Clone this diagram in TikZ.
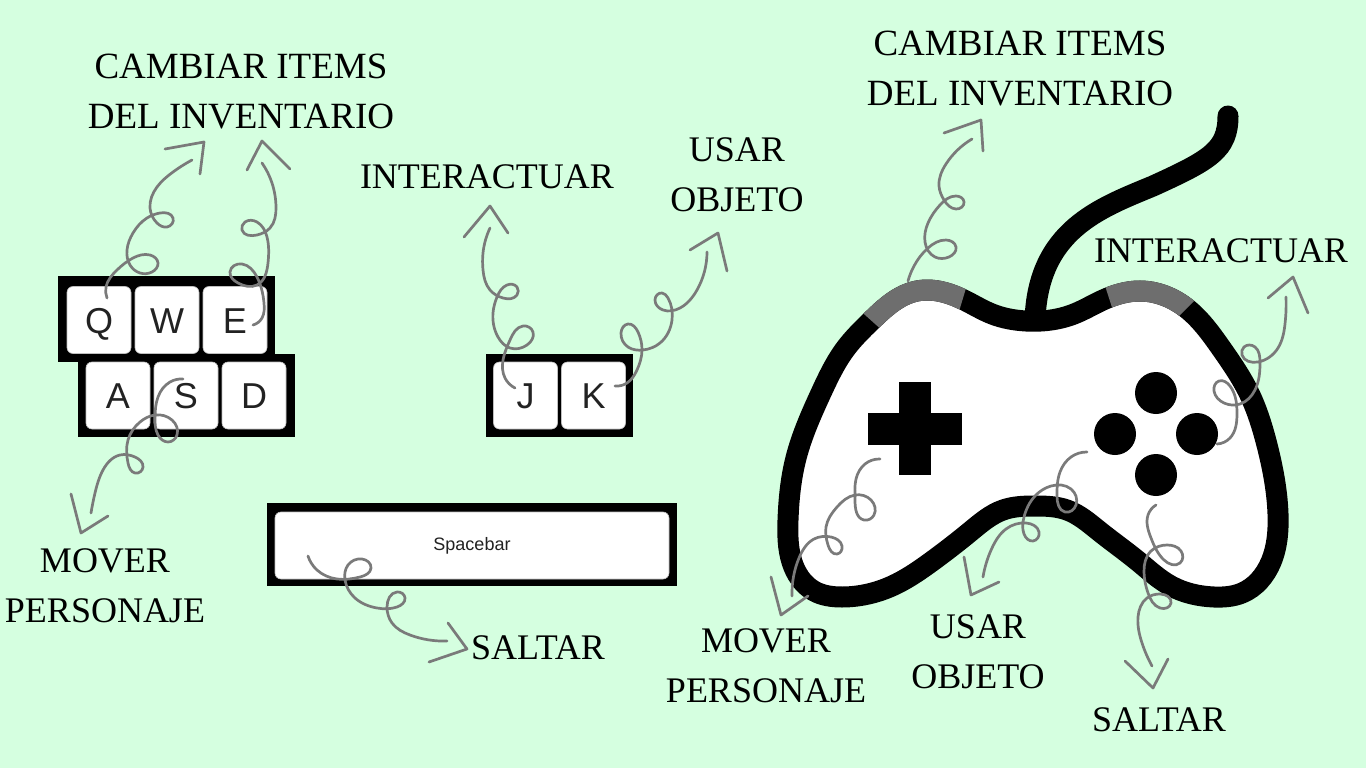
\documentclass[tikz,border=0pt]{standalone}
\usepackage{fontspec}
\setmainfont{Liberation Serif}
\newfontfamily\keyfont{Liberation Sans}
\usetikzlibrary{hobby}
\definecolor{mintbg}{HTML}{D5FFE0}
\definecolor{curlgray}{HTML}{7A7A7A}
\definecolor{bandgray}{HTML}{6E6E6E}
\definecolor{keyink}{HTML}{222222}
\tikzset{
  caption/.style={inner sep=0pt, align=center, text=black, font=\fontsize{36}{50}\selectfont},
  widecaption/.style={caption, font=\fontsize{37}{50}\selectfont},
  keyframe/.style={fill=black, inner sep=0pt},
  keycap/.style={draw=black!25, line width=0.6pt, fill=white, rounded corners=6pt, inner sep=0pt,
    minimum width=64pt, minimum height=67pt, text=keyink, text height=26pt, text depth=0pt,
    font=\keyfont\fontsize{36}{36}\selectfont},
  curl/.style={draw=curlgray, line width=2.7pt, line cap=round, line join=round},
  padline/.style={line width=21pt},
  padbtn/.style={circle, fill=black, inner sep=0pt, minimum size=42pt},
}
\newcommand{\padoutline}{plot[closed hobby] coordinates {(1026,321) (1074,314) (1103,300) (1140,291) (1185,307) (1221,348) (1249,393) (1267,445) (1278,514) (1271,562) (1242,593) (1214,597) (1171,586) (1139,562) (1099,531) (1067,510) (1035,506) (1003,510) (971,531) (931,562) (892,586) (842,597) (814,591) (792,562) (788,520) (796,458) (821,393) (846,348) (871,321) (917,291) (964,300) (992,314)}}
\begin{document}
\begin{tikzpicture}[x=1pt, y=-1pt, node distance=68pt]
  \useasboundingbox[fill=mintbg] (0,0) rectangle (1366,768);

  % keyboard
  \node[keyframe, minimum width=217pt, minimum height=86pt] (frameq) at (166.5,319) {};
  \node[keyframe, minimum width=217pt, minimum height=83pt] (framea) at (186.5,395.5) {};
  \node[keyframe, minimum width=147pt, minimum height=83pt] (framej) at (559.5,395.5) {};
  \node[keyframe, minimum width=410pt, minimum height=83pt] (framespace) at (472,544.5) {};
  \node[keycap] (keyq) at (99,320) {Q};
  \node[keycap] (keyw) [right of = keyq] {W};
  \node[keycap] (keye) [right of = keyw] {E};
  \node[keycap] (keya) at (118,395.5) {A};
  \node[keycap] (keys) [right of = keya] {S};
  \node[keycap] (keyd) [right of = keys] {D};
  \node[keycap] (keyj) at (525.5,395.5) {J};
  \node[keycap] (keyk) [right of = keyj] {K};
  \node[keycap, minimum width=394pt, text height=13pt, text depth=4pt, font=\keyfont\fontsize{18}{18}\selectfont] (keyspace) at (472,545.5) {Spacebar};

  % gamepad
  \draw[padline, line cap=round] (1228,116) .. controls (1228,150) and (1210,160) .. (1153,186) .. controls (1100,208) and (1038,230) .. (1035,320);
  \draw[padline, fill=white] \padoutline;
  \begin{scope}
    \clip (884,332) -- (855,306) -- (900,260) -- (970,275) -- (957,318) -- cycle;
    \draw[padline, bandgray] \padoutline;
  \end{scope}
  \begin{scope}
    \clip (1100,270) -- (1116,320) -- (1172,323) -- (1205,290) -- (1150,260) -- cycle;
    \draw[padline, bandgray] \padoutline;
  \end{scope}
  \node[fill=black, inner sep=0pt, minimum width=32pt, minimum height=93pt] (crossv) at (915,428.5) {};
  \node[fill=black, inner sep=0pt, minimum width=94pt, minimum height=32pt] (crossh) at (915,429) {};
  \node[padbtn] (btntop) at (1156,393) {};
  \node[padbtn] (btnleft) at (1115,434) {};
  \node[padbtn] (btnright) at (1197,434) {};
  \node[padbtn] (btnbottom) at (1156,475) {};

  % labels
  \node[widecaption] (itemsa) at (241,92) {CAMBIAR ITEMS\\DEL INVENTARIO};
  \node[caption] (intera) at (487,177) {INTERACTUAR};
  \node[caption] (usara) at (737,175) {USAR\\OBJETO};
  \node[caption] (movera) at (105,586) {MOVER\\PERSONAJE};
  \node[caption] (saltara) at (538,648) {SALTAR};
  \node[widecaption] (itemsb) at (1020,69) {CAMBIAR ITEMS\\DEL INVENTARIO};
  \node[caption] (interb) at (1221,251) {INTERACTUAR};
  \node[caption] (moverb) at (766,666) {MOVER\\PERSONAJE};
  \node[caption] (usarb) at (978,652) {USAR\\OBJETO};
  \node[caption] (saltarb) at (1159,720) {SALTAR};

  % curls, each one from a key or button to the tip under its label
  \coordinate (startq) at (107,298);
  \coordinate (tipq) at (204,142);
  \draw[curl] plot[hobby] coordinates {(startq) (106,287) (117,270) (133,258) (150,255) (158,263) (152,272) (140,273) (130,265) (127,250) (133,233) (147,218) (160,213) (173,218) (167,227) (157,223) (150,208) (157,187) (173,172) (192,160)};
  \draw[curl] (165,149) -- (tipq) -- (200,174);

  \coordinate (starte) at (253,325);
  \coordinate (tipe) at (262,141);
  \draw[curl] plot[hobby] coordinates {(starte) (262,318) (264,303) (257,277) (242,264) (230,272) (238,283) (257,285) (268,263) (267,237) (257,222) (245,222) (242,230) (257,235) (270,228) (276,207) (272,183) (262,163)};
  \draw[curl] (247,170) -- (tipe) -- (290,169);

  \coordinate (starts) at (183,379);
  \coordinate (tips) at (81,533);
  \draw[curl] plot[hobby] coordinates {(starts) (170,382) (158,397) (155,417) (158,435) (168,442) (177,435) (172,420) (155,415) (140,422) (128,440) (128,463) (135,473) (143,467) (135,457) (120,455) (103,470) (95,493) (91,513)};
  \draw[curl] (71,494) -- (tips) -- (108,516);

  \coordinate (startj) at (515,388);
  \coordinate (tipj) at (490,206);
  \draw[curl] plot[hobby] coordinates {(startj) (505,378) (503,360) (510,340) (523,326) (533,332) (527,345) (510,348) (498,337) (493,313) (497,297) (507,285) (517,287) (517,295) (503,298) (490,290) (483,270) (483,253) (490,228)};
  \draw[curl] (464,237) -- (tipj) -- (508,233);

  \coordinate (startk) at (615,386);
  \coordinate (tipk) at (718,233);
  \draw[curl] plot[hobby] coordinates {(startk) (627,383) (637,370) (642,350) (638,332) (628,324) (621,333) (628,347) (643,350) (660,343) (672,320) (668,298) (662,293) (655,300) (663,310) (680,308) (697,290) (707,252)};
  \draw[curl] (690,250) -- (tipk) -- (727,271);

  \coordinate (startspace) at (308,556);
  \coordinate (tipspace) at (467,649);
  \draw[curl] plot[hobby] coordinates {(startspace) (317,570) (337,579) (360,577) (371,568) (362,559) (348,565) (345,580) (355,598) (377,608) (397,607) (405,598) (397,592) (387,607) (392,623) (410,635) (447,641)};
  \draw[curl] (448,623) -- (tipspace) -- (429,662);

  \coordinate (startband) at (908,281);
  \coordinate (tipband) at (981,120);
  \draw[curl] plot[hobby] coordinates {(startband) (914,266) (928,248) (946,240) (956,247) (949,257) (935,257) (925,242) (928,223) (940,205) (956,196) (964,202) (956,209) (944,200) (939,186) (946,164) (972,139)};
  \draw[curl] (944,133) -- (tipband) -- (983,151);

  \coordinate (startright) at (1217,444);
  \coordinate (tipright) at (1293,277);
  \draw[curl] plot[hobby] coordinates {(startright) (1230,438) (1237,414) (1230,386) (1219,381) (1214,391) (1224,403) (1240,404) (1255,390) (1260,362) (1255,347) (1244,347) (1242,355) (1258,362) (1278,348) (1285,324) (1286,297)};
  \draw[curl] (1268,298) -- (tipright) -- (1308,313);

  \coordinate (startcross) at (880,459);
  \coordinate (tipcross) at (781,615);
  \draw[curl] plot[hobby] coordinates {(startcross) (865,464) (856,479) (855,500) (864,520) (874,515) (871,500) (855,495) (837,507) (826,527) (828,545) (837,554) (842,546) (831,537) (814,539) (799,558) (792,596)};
  \draw[curl] (771,577) -- (tipcross) -- (808,596);

  \coordinate (startleft) at (1087,452);
  \coordinate (tipleft) at (971,595);
  \draw[curl] plot[hobby] coordinates {(startleft) (1071,457) (1060,472) (1057,496) (1065,512) (1076,505) (1071,489) (1051,486) (1035,496) (1024,517) (1024,534) (1033,541) (1039,532) (1026,523) (1006,529) (992,548) (983,577)};
  \draw[curl] (964,557) -- (tipleft) -- (999,582);

  \coordinate (startbottom) at (1156,505);
  \coordinate (tipbottom) at (1153,688);
  \draw[curl] plot[hobby] coordinates {(startbottom) (1148,515) (1151,538) (1164,560) (1180,563) (1181,551) (1167,545) (1151,551) (1144,572) (1148,593) (1160,608) (1171,603) (1160,594) (1147,598) (1138,617) (1142,643) (1152,666)};
  \draw[curl] (1125,661) -- (tipbottom) -- (1168,659);
\end{tikzpicture}
\end{document}
